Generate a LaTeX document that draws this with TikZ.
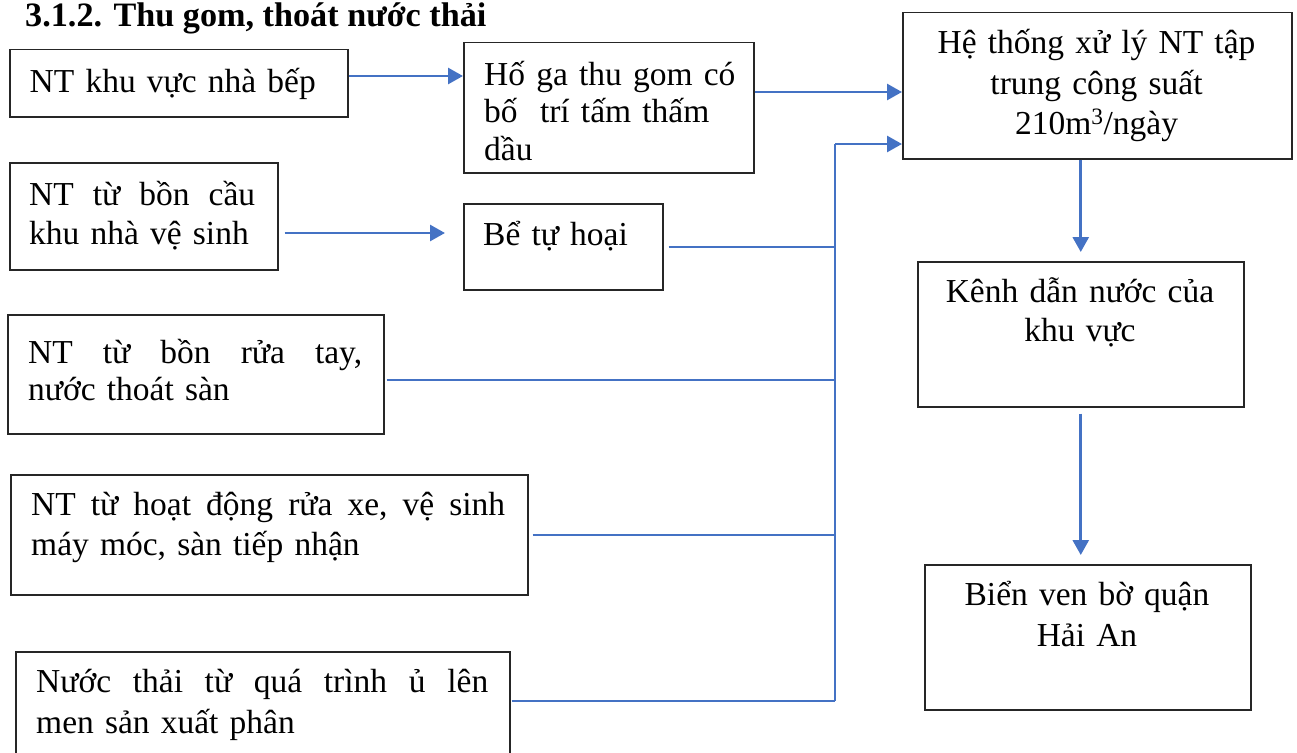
\documentclass[tikz,border=0pt]{standalone}
\usepackage{fontspec}
\setmainfont{Liberation Serif}
\usetikzlibrary{arrows.meta,calc}
\definecolor{flowblue}{HTML}{4472C4}
\newcommand{\diagfont}{\fontsize{33.5pt}{40pt}\selectfont}
\begin{document}
\begin{tikzpicture}[x=1pt,y=-1pt,
  box/.style={draw=black!85,line width=1.5pt,inner sep=0pt,anchor=north west},
  ltxt/.style={inner sep=0pt,anchor=base west,text width=#1,font=\diagfont,execute at begin node=\raggedright},
  ctxt/.style={inner sep=0pt,anchor=base,text width=#1,font=\diagfont,execute at begin node=\centering},
  arr/.style={draw=flowblue,line width=2.8pt,-{Triangle[length=15pt,width=16pt]}},
  link/.style={draw=flowblue,line width=1.4pt}]
\useasboundingbox (0,0) rectangle (1297,752);

% title
\node[inner sep=0pt,anchor=base west,font=\fontsize{34.2pt}{40pt}\selectfont\bfseries] (title) at (25,27) {3.1.2. Thu gom, thoát nước thải};

% boxes
\node[box,minimum width=338pt,minimum height=67pt]  (a) at (9,49) {};
\node[box,minimum width=290pt,minimum height=130pt] (b) at (463,42) {};
\node[box,minimum width=389pt,minimum height=146pt] (c) at (902,12) {};
\node[box,minimum width=268pt,minimum height=107pt] (d) at (9,162) {};
\node[box,minimum width=199pt,minimum height=86pt]  (e) at (463,203) {};
\node[box,minimum width=376pt,minimum height=119pt] (f) at (7,314) {};
\node[box,minimum width=517pt,minimum height=120pt] (g) at (10,474) {};
\node[box,minimum width=494pt,minimum height=109pt] (h) at (15,651) {};
\node[box,minimum width=326pt,minimum height=145pt] (i) at (917,261) {};
\node[box,minimum width=326pt,minimum height=145pt] (j) at (924,564) {};

% texts
\node[ltxt=300pt] (ta) at (29.5,92.7) {NT khu vực nhà bếp};
\node[ltxt=290pt,font=\fontsize{33.5pt}{37.5pt}\selectfont] (tb) at (484,85) {Hố ga thu gom có\\bố~ trí tấm thấm\\dầu};
\node[ctxt=389pt] (tc) at (1096.5,54) {Hệ thống xử lý NT tập\\trung công suất\\210m\textsuperscript{3}/ngày};
\node[ltxt=260pt,font=\fontsize{33.5pt}{39pt}\selectfont] (td) at (29,205) {\hbox to 226pt{NT\hfill từ\hfill bồn\hfill cầu}\\khu nhà vệ sinh};
\node[ltxt=190pt] (te) at (483,245) {Bể tự hoại};
\node[ltxt=350pt,font=\fontsize{33.5pt}{37pt}\selectfont] (tf) at (28,363) {\hbox to 334pt{NT\hfill từ\hfill bồn\hfill rửa\hfill tay,}\\nước thoát sàn};
\node[ltxt=490pt] (tg) at (31,515) {\hbox to 474pt{NT\hfill từ\hfill hoạt\hfill động\hfill rửa\hfill xe,\hfill vệ\hfill sinh}\\máy móc, sàn tiếp nhận};
\node[ltxt=470pt,font=\fontsize{33.5pt}{41pt}\selectfont] (th) at (36,692) {\hbox to 452pt{Nước\hfill thải\hfill từ\hfill quá\hfill trình\hfill ủ\hfill lên}\\men sản xuất phân};
\node[ctxt=326pt,font=\fontsize{33.5pt}{39pt}\selectfont] (ti) at (1080,302.7) {Kênh dẫn nước của\\khu vực};
\node[ctxt=326pt,font=\fontsize{33.5pt}{41pt}\selectfont] (tj) at (1087,605) {Biển ven bờ quận\\Hải An};

% collector bus
\coordinate (bustop) at (835,144);
\coordinate (busbot) at (835,701);

% connectors
\draw[arr] ($(a.north east)+(0,27)$) -- ($(b.north west)+(0,34)$);
\draw[arr] ($(b.north east)+(0,50)$) -- ($(c.north west)+(0,80)$);
\draw[arr] ($(d.north east)+(6,71)$) -- ($(e.north west)+(-18,30)$);
\draw[link] ($(e.north east)+(5,44)$) coordinate (e1) -- (e1 -| bustop);
\draw[link] ($(f.north east)+(2,66)$) coordinate (f1) -- (f1 -| bustop);
\draw[link] ($(g.north east)+(4,61)$) coordinate (g1) -- (g1 -| bustop);
\draw[link] ($(h.north east)+(1,50)$) coordinate (h1) -- (h1 -| bustop);
\draw[link] (bustop) -- (busbot);
\draw[arr] (bustop) -- (bustop -| c.west);
\draw[arr] (c.south -| i.north) -- ($(i.north)+(0,-9)$);
\draw[arr] ($(i.south)+(0,6)$) -- ($(i.south |- j.north)+(0,-9)$);
\end{tikzpicture}
\end{document}
